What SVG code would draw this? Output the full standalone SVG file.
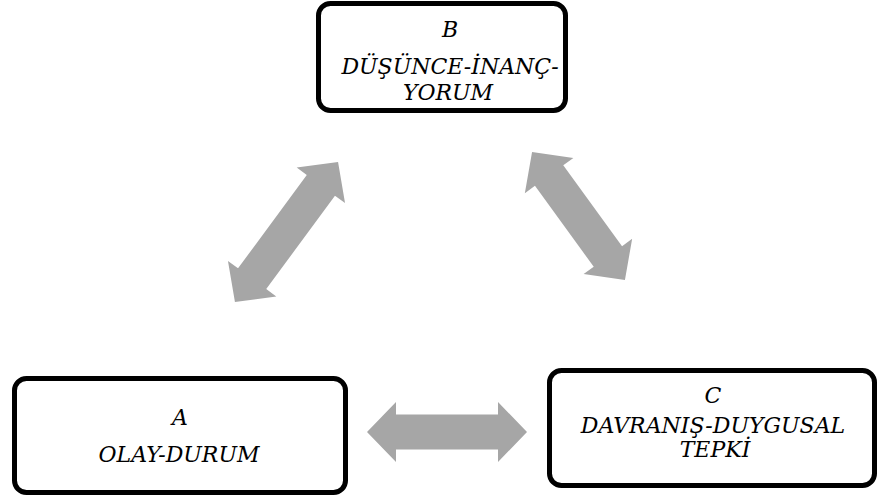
<svg xmlns="http://www.w3.org/2000/svg" width="879" height="499" viewBox="0 0 879 499">
<style>
.box{fill:#fff;stroke:#000;stroke-width:5}
.arr{fill:#a6a6a6}
</style>
<rect width="879" height="499" fill="#fff"/>
<g id="connectors">
<path class="arr" transform="translate(447,432)" d="M-80,0 L-51,-30 L-51,-17.5 L51,-17.5 L51,-30 L80,0 L51,30 L51,17.5 L-51,17.5 L-51,30 Z"/>
<path class="arr" transform="translate(286.5,232) rotate(-53.66)" d="M-87,0 L-58,-30 L-58,-17.5 L58,-17.5 L58,-30 L87,0 L58,30 L58,17.5 L-58,17.5 L-58,30 Z"/>
<path class="arr" transform="translate(578.5,216) rotate(54)" d="M-79,0 L-50,-30 L-50,-17.5 L50,-17.5 L50,-30 L79,0 L50,30 L50,17.5 L-50,17.5 L-50,30 Z"/>
</g>
<g font-family="'DejaVu Serif', serif" font-style="italic" font-size="22" text-anchor="middle" fill="#000">
<g id="nodeB">
<rect class="box" x="318.5" y="3.5" width="247" height="107" rx="12"/>
<text x="450" y="37">B</text>
<text x="450" y="74">DÜŞÜNCE-İNANÇ-</text>
<text x="448" y="100">YORUM</text>
</g>
<g id="nodeA">
<rect class="box" x="14.5" y="378.5" width="331" height="114" rx="12"/>
<text x="180" y="425">A</text>
<text x="179" y="462">OLAY-DURUM</text>
</g>
<g id="nodeC">
<rect class="box" x="549.5" y="370.5" width="325" height="115" rx="12"/>
<text x="713" y="403">C</text>
<text x="713" y="433">DAVRANIŞ-DUYGUSAL</text>
<text x="715" y="457">TEPKİ</text>
</g>
</g>
</svg>
